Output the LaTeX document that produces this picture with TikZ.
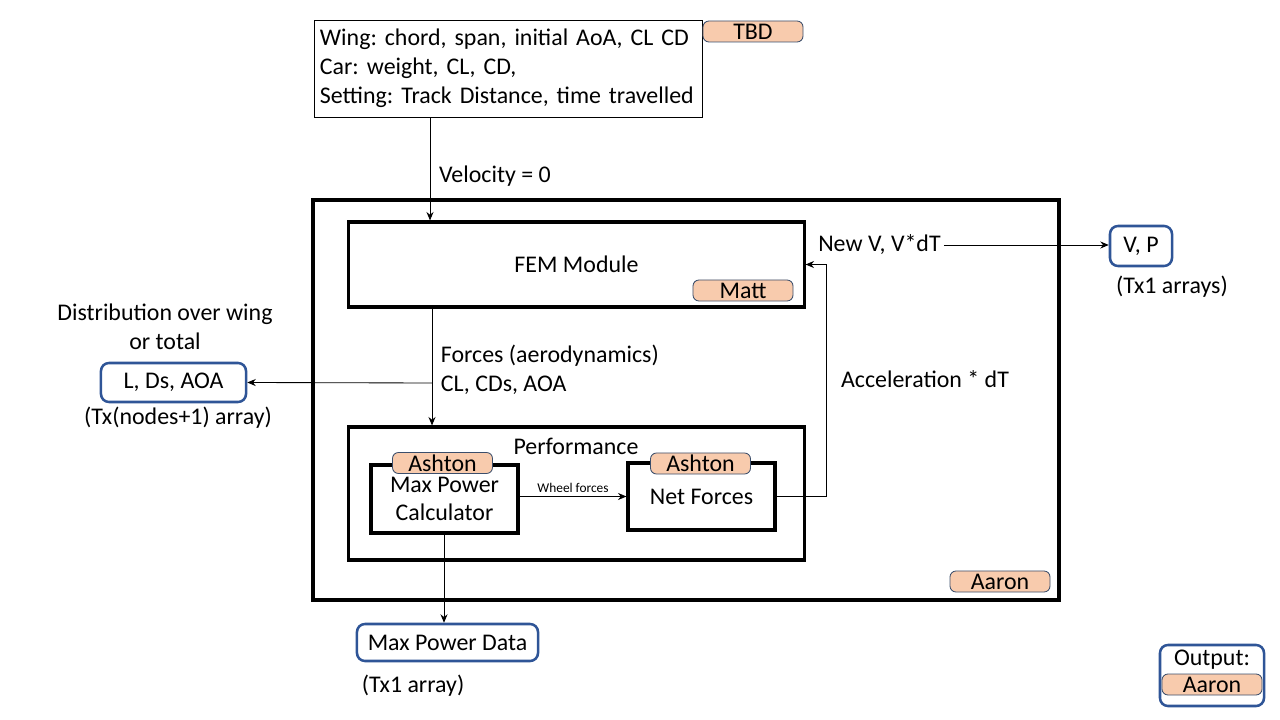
\documentclass[tikz,border=0pt]{standalone}
\usepackage{fontspec}
\setmainfont{Carlito}
\usetikzlibrary{
  arrows.meta,
  positioning,
}
\definecolor{tagfill}{HTML}{F8CBAD}
\definecolor{tagline}{HTML}{3B4E6B}
\definecolor{outblue}{HTML}{2F5597}
\def\mybw{2.2pt}
\frenchspacing
\tikzset{
  x=0.025cm, y=-0.025cm,
  font=\fontsize{17}{20.5}\selectfont,
  >={Stealth[length=6pt,width=5pt]},
  link/.style={->, line width=0.6pt},
  block/.style={
    draw,
    line width=\mybw,
    inner sep=0mm,
    align=center,
    rectangle
  },
  tag/.style={
    draw=tagline,
    fill=tagfill,
    line width=0.6pt,
    rounded corners=1.5mm,
    minimum width=2.5cm,
    minimum height=0.525cm,
    inner sep=0mm
  },
  output/.style={
    draw=outblue,
    line width=1.8pt,
    rounded corners=2mm,
    inner sep=0mm,
    align=center
  },
  small/.style={font=\fontsize{9.5}{11}\selectfont}
}
\begin{document}
\begin{tikzpicture}
\useasboundingbox (0,0) rectangle (1280,720);
% input
\node[draw, line width=0.6pt, minimum width=9.7cm, minimum height=2.425cm,
  text width=9.4cm, align=left, inner xsep=0.15cm] (in) at (508,68.5)
  {Wing: chord, span, initial AoA, CL CD\\Car: weight, CL, CD,\\Setting: Track Distance, time travelled};
\node[tag] (tbd) at (753,31.5) {TBD};
% main loop
\node[block, minimum width=18.65cm, minimum height=10cm, line width=2.6pt] (main) at (686,400) {};
\node[block, minimum width=11.375cm, minimum height=2.125cm] (fem) at (576.5,264.5) {FEM Module};
\node[tag] (matt) at (743,290.5) {Matt};
\node[block, minimum width=11.375cm, minimum height=3.325cm] (perf) at (576.5,493.5) {};
\node (perft) at (576,446) {Performance};
\node[block, minimum width=3.675cm, minimum height=1.7cm] (mpc) at (444.5,499) {Max Power\\Calculator};
\node[block, minimum width=3.675cm, minimum height=1.675cm] (net) at (701.5,496.5) {Net Forces};
\node[tag] (ash1) at (442.5,463) {Ashton};
\node[tag] (ash2) at (700.5,463.5) {Ashton};
\node[tag] (aaron) at (1000,581.5) {Aaron};
% outputs
\node[output, minimum width=3.625cm, minimum height=0.975cm] (lda) at (173.5,382.5) {L, Ds, AOA};
\node[align=center] (ldat) at (165,327) {Distribution over wing\\or total};
\node (ldan) at (178,418) {(Tx(nodes+1) array)};
\node[output, minimum width=1.55cm, minimum height=1cm] (vp) at (1141,246) {V, P};
\node (vpn) at (1172,287) {(Tx1 arrays)};
\node[output, minimum width=4.525cm, minimum height=0.925cm] (mpd) at (447.5,642.5) {Max Power Data};
\node (mpdn) at (413,686) {(Tx1 array)};
% legend
\node[output, minimum width=2.6cm, minimum height=1.525cm] (leg) at (1212,675.5) {};
\node (legt) at (1212,660) {Output:};
\node[tag] (lega) at (1212,684.5) {Aaron};
% connectors
\coordinate (v0) at (430,0);
\coordinate (f0) at (432,383);
\coordinate (fbk) at (826,0);
\coordinate (m0) at (444,0);
\draw[link] (in.south -| v0) -- (fem.north -| v0)
  node[pos=0.57, anchor=west, xshift=1mm] {Velocity = 0};
\draw[link] (fem.south -| f0) -- (perf.north -| f0);
\node[anchor=west, align=left] (forces) at (436,370) {Forces (aerodynamics)\\CL, CDs, AOA};
\draw[link] (f0) -- (lda.east);
\draw[link] (mpc.east |- net.east) -- (net.west)
  node[midway, above, small, yshift=-1pt] {Wheel forces};
\draw[link] (net.east) -- (net.east -| fbk) |- (fem.east);
\node (acc) at (925,379) {Acceleration * dT};
\node[anchor=west, inner xsep=0mm] (nv) at (818,245) {New V, V*dT};
\draw[link] (nv.east) ++(3,0) -- (vp.west |- nv.east);
\draw[link] (mpc.south -| m0) -- (mpd.north -| m0);
\end{tikzpicture}
\end{document}
